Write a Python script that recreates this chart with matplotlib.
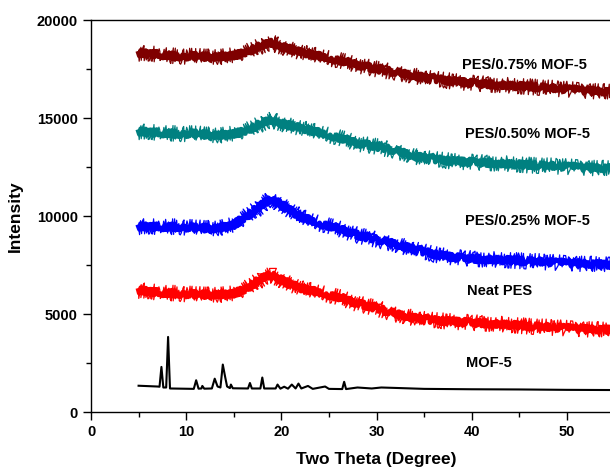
import matplotlib
matplotlib.use("Agg")
import matplotlib.pyplot as plt
from matplotlib.ticker import MultipleLocator, FixedLocator

plt.rcParams["font.family"] = ["Liberation Sans", "DejaVu Sans"]
plt.rcParams["font.weight"] = "bold"

# amorphous PES films: envelope read at these 2-theta positions
tt = [5, 7, 9, 11, 13, 15, 16, 17, 18, 19, 20, 21, 22, 24, 26, 28,
      30, 32, 34, 36, 38, 40, 43, 46, 49, 52, 55, 58]
pes_075 = [18300, 18250, 18150, 18150, 18100, 18200, 18300, 18500, 18700, 18830,
           18650, 18500, 18350, 18150, 17950, 17700, 17500, 17330, 17150, 17000,
           16880, 16780, 16680, 16600, 16500, 16400, 16320, 16250]
pes_050 = [14300, 14250, 14200, 14200, 14100, 14200, 14300, 14500, 14730, 14900,
           14730, 14600, 14480, 14250, 14000, 13700, 13550, 13330, 13050, 12900,
           12800, 12750, 12680, 12600, 12540, 12470, 12420, 12370]
pes_025 = [9450, 9450, 9450, 9400, 9350, 9550, 9880, 10200, 10560, 10900,
           10560, 10250, 9960, 9620, 9350, 9020, 8800, 8560, 8300, 8050,
           7900, 7820, 7760, 7700, 7620, 7560, 7500, 7450]
neat_pes = [6200, 6100, 6050, 6000, 5970, 6050, 6220, 6500, 6820, 7000,
            6740, 6500, 6310, 6100, 5850, 5530, 5300, 5000, 4800, 4680,
            4620, 4560, 4480, 4380, 4300, 4230, 4180, 4140]

# crystalline MOF-5 powder
mof_tt = [5.0, 7.0, 7.2, 7.4, 7.6, 7.9, 8.1, 8.3, 10.8, 11.05, 11.3, 11.6, 11.7, 11.9,
          12.7, 13.0, 13.3, 13.6, 13.85, 14.1, 14.3, 14.6, 14.7, 14.9, 16.5, 16.7,
          16.9, 17.8, 18.0, 18.2, 19.4, 19.6, 19.9, 20.3, 20.7, 21.1, 21.5, 21.8,
          22.1, 22.8, 23.3, 24.6, 25.0, 26.4, 26.6, 26.8, 28, 29.5, 30.5, 32.5,
          35, 40, 45, 50, 55, 58]
mof_5 = [1340, 1300, 1290, 2300, 1250, 1250, 3830, 1200, 1180, 1620, 1190, 1200, 1330, 1190,
         1200, 1700, 1300, 1250, 2420, 1780, 1300, 1220, 1400, 1210, 1200, 1480,
         1200, 1200, 1760, 1200, 1200, 1400, 1190, 1290, 1190, 1400, 1200, 1450,
         1200, 1330, 1180, 1300, 1180, 1170, 1540, 1170, 1250, 1200, 1250, 1220,
         1180, 1160, 1150, 1130, 1120, 1110]

labels = ["PES/0.75% MOF-5", "PES/0.50% MOF-5", "PES/0.25% MOF-5", "Neat PES", "MOF-5"]
label_x = [39.0, 39.3, 39.3, 39.5, 39.4]
label_y = [17680, 14170, 9730, 6170, 2480]

fig = plt.figure(figsize=(6.1, 4.7), dpi=100)
ax = fig.add_axes([91 / 610, 58 / 470, 571 / 610, 392 / 470])

for ys, c in [(pes_075, "#7f0000"), (pes_050, "#008080"),
              (pes_025, "#0000ff"), (neat_pes, "#ff0000")]:
    # thin spiky trace over a thicker body gives the counting-noise look
    ln, = ax.plot(tt, ys, color=c, lw=0.9)
    ln.set_sketch_params(scale=8, length=1.2, randomness=3)
    ln2, = ax.plot(tt, ys, color=c, lw=3.5)
    ln2.set_sketch_params(scale=3, length=1.5, randomness=2)
ax.plot(mof_tt, mof_5, color="black", lw=1.5)

for t, x, y in zip(labels, label_x, label_y):
    ax.text(x, y, t, fontsize=10.5, fontweight="bold", ha="left", va="center")

ax.set_xlim(0, 60)
ax.set_ylim(0, 20000)
ax.xaxis.set_major_locator(FixedLocator([0, 10, 20, 30, 40, 50]))
ax.xaxis.set_minor_locator(FixedLocator([5, 15, 25, 35, 45, 55]))
ax.yaxis.set_major_locator(MultipleLocator(5000))
ax.yaxis.set_minor_locator(MultipleLocator(2500))
ax.tick_params(which="major", direction="out", length=6, width=1, labelsize=10.5)
ax.tick_params(which="minor", direction="out", length=3.5, width=1)
for lab in ax.get_xticklabels() + ax.get_yticklabels():
    lab.set_fontweight("bold")
ax.spines["right"].set_visible(False)
for s in ["left", "bottom", "top"]:
    ax.spines[s].set_linewidth(1.0)

ax.set_xlabel("Two Theta (Degree)", fontsize=12.5, fontweight="bold", labelpad=9)
ax.set_ylabel("Intensity", fontsize=12.5, fontweight="bold", labelpad=10)

fig.savefig("out.png", dpi=100)
